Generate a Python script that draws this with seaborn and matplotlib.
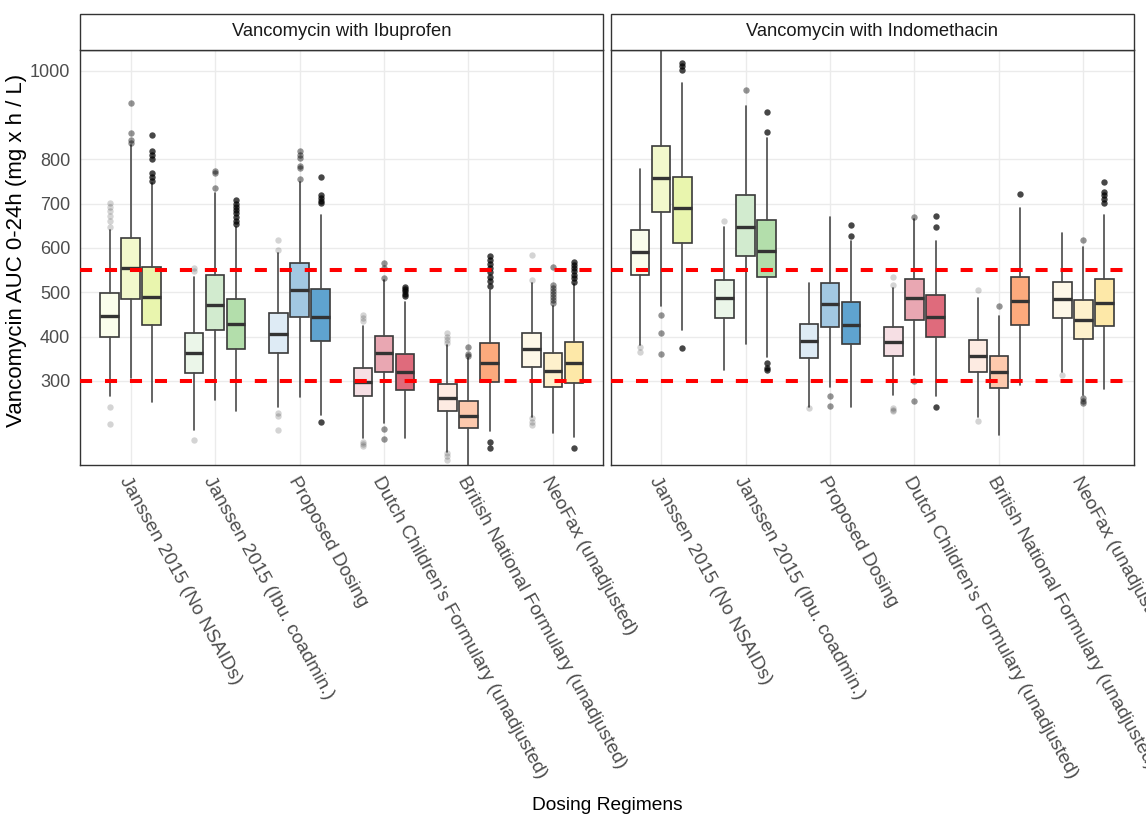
import matplotlib
matplotlib.use("Agg")
import matplotlib.pyplot as plt
from matplotlib.patches import Rectangle
import pandas as pd
import seaborn as sns

# ---------------------------------------------------------------- data
panels = ["Vancomycin with Ibuprofen", "Vancomycin with Indomethacin"]
regimens = [
    "Janssen 2015 (No NSAIDs)",
    "Janssen 2015 (Ibu. coadmin.)",
    "Proposed Dosing",
    "Dutch Children's Formulary (unadjusted)",
    "British National Formulary (unadjusted)",
    "NeoFax (unadjusted)",
]
y_breaks = [300, 400, 500, 600, 700, 800, 1000]
target_low, target_high = 300, 550

# five-number summaries, one row per regimen, three dose subgroups per row
ibu_whislo = [[265, 306, 253], [188, 257, 231], [242, 263, 223],
              [171, 204, 171], [140, 100, 186], [219, 182, 174]]
ibu_q1 = [[399, 485, 426], [317, 415, 372], [364, 445, 389],
          [266, 321, 280], [232, 193, 297], [332, 287, 296]]
ibu_med = [[447, 554, 489], [362, 472, 428], [405, 504, 445],
           [298, 362, 321], [262, 221, 340], [372, 323, 341]]
ibu_q3 = [[498, 622, 558], [408, 538, 484], [453, 567, 507],
          [330, 402, 361], [293, 255, 385], [409, 362, 387]]
ibu_whishi = [[641, 833, 746], [535, 725, 648], [588, 750, 675],
              [423, 528, 479], [381, 351, 505], [520, 470, 518]]
ibu_fliers = [
    [[648, 660, 672, 683, 692, 702, 240, 203], [928, 859, 844, 837],
     [855, 819, 810, 801, 770, 761, 752]],
    [[554, 547, 167], [773, 769, 735],
     [708, 700, 692, 685, 678, 670, 662, 655]],
    [[618, 596, 227, 221, 189], [818, 810, 803, 785, 780, 756],
     [761, 720, 713, 707, 701, 208]],
    [[449, 443, 436, 163, 157, 152], [567, 554, 532, 191, 169],
     [513, 508, 503, 497, 492]],
    [[408, 400, 392, 385, 137, 130, 122], [377, 361, 355],
     [581, 572, 563, 555, 545, 535, 525, 515, 161, 148]],
    [[584, 527, 216, 208, 201], [558, 517, 510, 503, 496, 489, 482, 475],
     [569, 562, 555, 548, 540, 532, 524, 148]],
]

indo_whislo = [[381, 468, 415], [325, 384, 353], [242, 287, 242],
               [268, 314, 265], [219, 178, 291], [321, 268, 281]]
indo_q1 = [[538, 681, 612], [441, 581, 535], [351, 421, 383],
           [357, 438, 398], [321, 283, 426], [443, 395, 423]]
indo_med = [[591, 759, 691], [487, 647, 594], [390, 473, 426],
            [388, 487, 444], [356, 319, 481], [485, 438, 475]]
indo_q3 = [[641, 831, 761], [528, 720, 664], [428, 522, 478],
           [421, 529, 493], [393, 355, 534], [523, 483, 530]]
indo_whishi = [[778, 1060, 973], [647, 921, 848], [521, 669, 615],
               [509, 665, 615], [487, 447, 691], [633, 602, 675]]
indo_fliers = [
    [[377, 366], [449, 408, 361], [1017, 1010, 1002, 374]],
    [[660], [957], [906, 862, 340, 330, 325]],
    [[238], [265, 244], [652, 626]],
    [[535, 517, 238, 234, 231], [671, 299, 255], [673, 648, 242]],
    [[506, 210], [468], [722]],
    [[314], [618, 261, 255, 250], [750, 727, 720, 710, 701]],
]

# fill colours: light / medium / dark shade for each regimen
box_colors = [
    ["#fafdec", "#f2f8cc", "#e9f5ae"],
    ["#ebf6e9", "#d2ebcf", "#b3deab"],
    ["#deebf5", "#a2c8e2", "#5fa3cf"],
    ["#f6dfe4", "#e9a7b2", "#df6b7c"],
    ["#fdebe2", "#fdc9ad", "#fcaa7d"],
    ["#fef8e8", "#fef1cc", "#fde8a8"],
]
flier_alpha = [0.17, 0.42, 0.72]

# ---------------------------------------------------------------- table
rows = []
for panel, lo, q1, med, q3, hi, fl in [
    (panels[0], ibu_whislo, ibu_q1, ibu_med, ibu_q3, ibu_whishi, ibu_fliers),
    (panels[1], indo_whislo, indo_q1, indo_med, indo_q3, indo_whishi, indo_fliers),
]:
    for r, reg in enumerate(regimens):
        for s in range(3):
            rows.append(dict(panel=panel, regimen=reg, ridx=r, grp=s,
                             whislo=lo[r][s], q1=q1[r][s], med=med[r][s],
                             q3=q3[r][s], whishi=hi[r][s], fliers=fl[r][s]))
df = pd.DataFrame(rows)

# ---------------------------------------------------------------- style
sns.set_theme(style="whitegrid")
plt.rcParams["font.family"] = ["Liberation Sans", "DejaVu Sans"]

DODGE = 0.25
BOX_W = 0.22


def draw_boxes(data, **kws):
    ax = plt.gca()
    for rec in data.to_dict("records"):
        r, s = rec["ridx"], rec["grp"]
        stats = [dict(whislo=rec["whislo"], q1=rec["q1"], med=rec["med"],
                      q3=rec["q3"], whishi=rec["whishi"], fliers=rec["fliers"])]
        pos = r + (s - 1) * DODGE
        a = flier_alpha[s]
        ax.bxp(stats, positions=[pos], widths=BOX_W, patch_artist=True,
               manage_ticks=False,
               boxprops=dict(facecolor=box_colors[r][s],
                             edgecolor="#3a3a3a", linewidth=1.2),
               medianprops=dict(color="#333333", linewidth=2.4,
                                solid_capstyle="butt"),
               whiskerprops=dict(color="#4a4a4a", linewidth=1.2),
               capprops=dict(linewidth=0),
               flierprops=dict(marker="o", markersize=4.6,
                               markerfacecolor=(0, 0, 0, a),
                               markeredgecolor="none"),
               zorder=3)


g = sns.FacetGrid(df, col="panel", col_order=panels, sharey=True,
                  height=4, aspect=1.2)
g.map_dataframe(draw_boxes)

fig = g.figure
fig.set_size_inches(11.46, 8.19)
fig.subplots_adjust(left=80 / 1146, right=1134 / 1146,
                    top=1 - 50 / 819, bottom=1 - 465 / 819,
                    wspace=7 / 523)

strip_h = 36 / 415
for ax, title in zip(g.axes.flat, panels):
    ax.set_title("")
    ax.set_xlabel("")
    ax.set_ylabel("")
    ax.set_xlim(-0.6, len(regimens) - 0.4)
    ax.set_ylim(110, 1047)
    ax.set_yticks(y_breaks)
    ax.set_yticklabels([str(v) for v in y_breaks])
    ax.set_xticks(range(len(regimens)))
    ax.set_xticklabels(regimens, rotation=-61, ha="left", va="top",
                       rotation_mode="anchor")
    ax.grid(True, color="#ebebeb", linewidth=1.0)
    ax.set_axisbelow(True)
    for sp in ax.spines.values():
        sp.set_visible(True)
        sp.set_color("#333333")
        sp.set_linewidth(1.0)
    ax.tick_params(axis="both", which="major", length=4, width=0.9,
                   color="#333333", labelcolor="#4d4d4d", labelsize=13,
                   pad=3)
    ax.tick_params(axis="x", labelsize=13.8, pad=2)
    for yv in (target_low, target_high):
        ax.axhline(yv, color="red", linewidth=2.9, linestyle=(0, (3, 3.2)),
                   zorder=4)
    # facet strip
    ax.add_patch(Rectangle((0, 1), 1, strip_h, transform=ax.transAxes,
                           facecolor="white", edgecolor="#333333",
                           linewidth=1.0, clip_on=False, zorder=5))
    ax.text(0.5, 1 + strip_h / 2, title, transform=ax.transAxes,
            ha="center", va="center", fontsize=13.2, color="#1a1a1a",
            zorder=6)

g.axes.flat[1].tick_params(axis="y", labelleft=False, length=0)

fig.text(607 / 1146, 1 - 806 / 819, "Dosing Regimens", ha="center",
         va="center", fontsize=13.8, color="black")
fig.text(17 / 1146, 1 - 250 / 819, "Vancomycin AUC 0-24h (mg x h / L)",
         ha="center", va="center", rotation=90, fontsize=16,
         color="black")

fig.savefig("out.png", dpi=100)
